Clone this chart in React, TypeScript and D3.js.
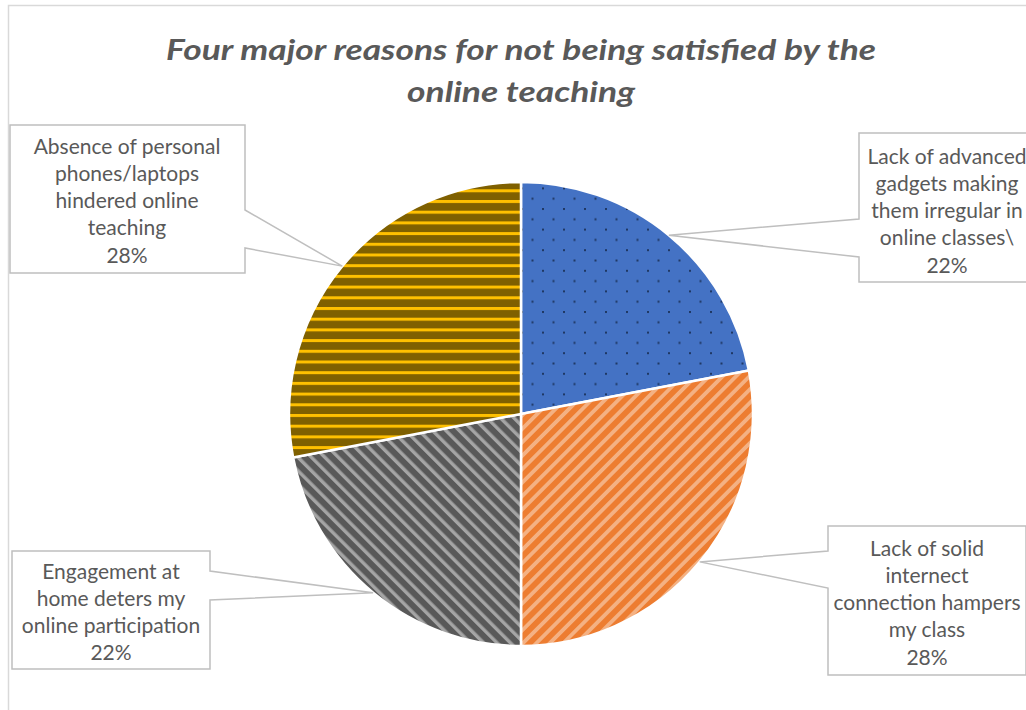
import React from "react";
import * as d3 from "d3";

const categories = [
  "Lack of advanced gadgets making them irregular in online classes\\",
  "Lack of solid internect connection hampers my class",
  "Engagement at home deters my online participation",
  "Absence of personal phones/laptops hindered online teaching",
];
const values = [22, 28, 22, 28];
const percentLabels = ["22%", "28%", "22%", "28%"];
const labelLines = [
  ["Lack of advanced", "gadgets making", "them irregular in", "online classes\\"],
  ["Lack of solid", "internect", "connection hampers", "my class"],
  ["Engagement at", "home deters my", "online participation"],
  ["Absence of personal", "phones/laptops", "hindered online", "teaching"],
];
const titleLines = ["Four major reasons for not being satisfied by the", "online teaching"];

// layout (positions / sizes) kept separate from data
const W = 1026;
const H = 710;
const CX = 521;
const CY = 414;
const R = 232;
const boxes = [
  { x0: 859, y0: 133, x1: 1035, y1: 282, side: "left", w1: 219, w2: 257, tx: 947, ty: 155 },
  { x0: 828, y0: 526, x1: 1026, y1: 675, side: "left", w1: 551, w2: 588, tx: 927, ty: 547 },
  { x0: 12, y0: 551, x1: 210, y1: 669, side: "right", w1: 571, w2: 600, tx: 111, ty: 570 },
  { x0: 10, y0: 125, x1: 245, y1: 273, side: "right", w1: 210, w2: 248, tx: 127, ty: 145 },
];
const LINE_H = 27.3;
const patternIds = ["patBlue", "patOrange", "patGray", "patGold"];

export default function App() {
  const pie = d3
    .pie<number>()
    .sort(null)
    .value((d) => d)
    .startAngle(0)
    .endAngle(2 * Math.PI);
  const arcs = pie(values);
  const arc = d3.arc<d3.PieArcDatum<number>>().innerRadius(0).outerRadius(R);

  const callouts = arcs.map((a, i) => {
    const mid = (a.startAngle + a.endAngle) / 2;
    const ax = CX + R * Math.sin(mid);
    const ay = CY - R * Math.cos(mid);
    const b = boxes[i];
    let d: string;
    if (b.side === "left") {
      d = `M${b.x0},${b.y0}H${b.x1}V${b.y1}H${b.x0}V${b.w2}L${ax},${ay}L${b.x0},${b.w1}Z`;
    } else {
      d = `M${b.x0},${b.y0}H${b.x1}V${b.w1}L${ax},${ay}L${b.x1},${b.w2}V${b.y1}H${b.x0}Z`;
    }
    return { d, b, lines: [...labelLines[i], percentLabels[i]] };
  });

  return (
    <svg
      width={W}
      height={H}
      style={{ position: "absolute", left: 0, top: 0, background: "#fff" }}
    >
      <defs>
        <pattern id="patBlue" patternUnits="userSpaceOnUse" width={21} height={20.6}>
          <rect width={21} height={20.6} fill="#4472C4" />
          <rect x={0} y={0} width={2} height={2} fill="#1F3864" />
          <rect x={10.5} y={10.3} width={2} height={2} fill="#1F3864" />
        </pattern>
        <pattern
          id="patOrange"
          patternUnits="userSpaceOnUse"
          width={9.5}
          height={9.5}
          patternTransform="rotate(45)"
        >
          <rect width={9.5} height={9.5} fill="#ED7D31" />
          <rect x={0} y={0} width={3.8} height={9.5} fill="#F4B183" />
        </pattern>
        <pattern
          id="patGray"
          patternUnits="userSpaceOnUse"
          width={9.5}
          height={9.5}
          patternTransform="rotate(-45)"
        >
          <rect width={9.5} height={9.5} fill="#595959" />
          <rect x={0} y={0} width={3.4} height={9.5} fill="#A5A5A5" />
        </pattern>
        <pattern id="patGold" patternUnits="userSpaceOnUse" width={10} height={10.7}>
          <rect width={10} height={10.7} fill="#7F6000" />
          <rect x={0} y={0} width={10} height={3} fill="#FFC000" />
        </pattern>
      </defs>

      <rect x={8.5} y={5.5} width={W} height={H} fill="#fff" stroke="#D9D9D9" strokeWidth={1.5} />

      <g fontFamily="Lato, 'Open Sans', sans-serif" fontWeight="bold" fontStyle="italic" fontSize={29} fill="#595959" textAnchor="middle">
        <text x={CX} y={60} textLength={710} lengthAdjust="spacingAndGlyphs">{titleLines[0]}</text>
        <text x={CX} y={102} textLength={228} lengthAdjust="spacingAndGlyphs">{titleLines[1]}</text>
      </g>

      <g transform={`translate(${CX},${CY})`}>
        {arcs.map((a, i) => (
          <path
            key={categories[i]}
            d={arc(a) || ""}
            fill={`url(#${patternIds[i]})`}
            stroke="#fff"
            strokeWidth={2.5}
            strokeLinejoin="round"
          />
        ))}
      </g>

      {callouts.map((c, i) => (
        <g key={i}>
          <path d={c.d} fill="none" stroke="#BFBFBF" strokeWidth={1.5} />
          <text
            fontFamily="Lato, 'Open Sans', sans-serif"
            fontSize={21}
            fill="#595959"
            textAnchor="middle"
          >
            {c.lines.map((l, j) => (
              <tspan key={j} x={c.b.tx} y={c.b.ty + j * LINE_H} dominantBaseline="central">
                {l}
              </tspan>
            ))}
          </text>
        </g>
      ))}
    </svg>
  );
}
